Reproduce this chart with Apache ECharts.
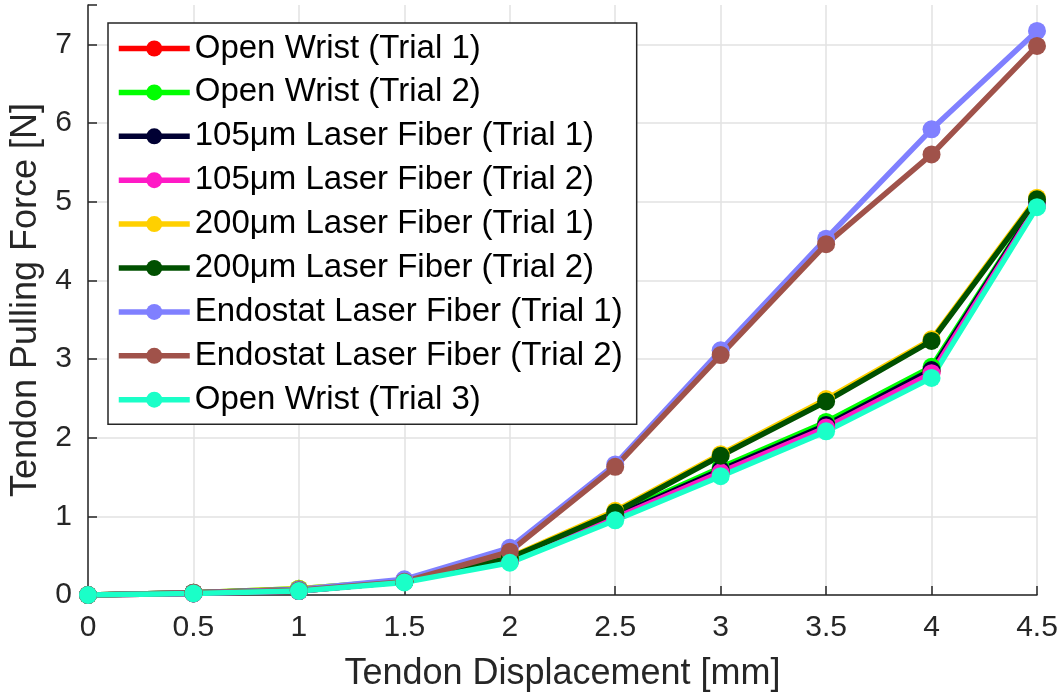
<!DOCTYPE html>
<html>
<head>
<meta charset="utf-8">
<script src="https://cdn.jsdelivr.net/npm/echarts@6/dist/echarts.min.js"></script>
<style>
  html, body { margin: 0; padding: 0; background: #fff; }
  #main { width: 1064px; height: 698px; }
</style>
</head>
<body>
<div id="main"></div>
<script>
// 변위 (mm)
var displacement = [0, 0.5, 1, 1.5, 2, 2.5, 3, 3.5, 4, 4.5];

// 각 시험별 당김 힘 (N)
var openWrist1   = [0, 0.02, 0.05, 0.17, 0.43, 0.98, 1.56, 2.13, 2.84, 4.95];
var openWrist2   = [0, 0.03, 0.08, 0.18, 0.46, 1.02, 1.62, 2.2, 2.9, 4.98];
var fiber105_1   = [0, 0.02, 0.05, 0.17, 0.44, 1.00, 1.59, 2.16, 2.86, 4.97];
var fiber105_2   = [0, 0.02, 0.05, 0.17, 0.43, 0.98, 1.56, 2.13, 2.82, 4.95];
var fiber200_1   = [0, 0.03, 0.08, 0.18, 0.48, 1.07, 1.79, 2.49, 3.25, 5.05];
var fiber200_2   = [0, 0.03, 0.07, 0.17, 0.47, 1.05, 1.77, 2.46, 3.23, 5.03];
var endostat1    = [0, 0.03, 0.07, 0.20, 0.60, 1.66, 3.11, 4.53, 5.92, 7.17];
var endostat2    = [0, 0.03, 0.06, 0.17, 0.55, 1.63, 3.05, 4.46, 5.60, 6.98];
var openWrist3   = [0, 0.02, 0.05, 0.16, 0.41, 0.95, 1.51, 2.08, 2.76, 4.93];

var seriesNames = [
  'Open Wrist (Trial 1)',
  'Open Wrist (Trial 2)',
  '105μm Laser Fiber (Trial 1)',
  '105μm Laser Fiber (Trial 2)',
  '200μm Laser Fiber (Trial 1)',
  '200μm Laser Fiber (Trial 2)',
  'Endostat Laser Fiber (Trial 1)',
  'Endostat Laser Fiber (Trial 2)',
  'Open Wrist (Trial 3)'
];
var seriesValues = [openWrist1, openWrist2, fiber105_1, fiber105_2, fiber200_1, fiber200_2, endostat1, endostat2, openWrist3];
var seriesColors = ['#ff0000', '#00ff00', '#000033', '#ff1ac6', '#ffd000', '#005000', '#8080ff', '#a0524a', '#1affc8'];

var yTicks = [0, 1, 2, 3, 4, 5, 6, 7];

function makeSeries(i) {
  return {
    name: seriesNames[i],
    type: 'line',
    data: displacement.map(function (x, k) { return [x, seriesValues[i][k]]; }),
    symbol: 'circle',
    symbolSize: 18,
    showSymbol: true,
    lineStyle: { width: 5.5, color: seriesColors[i] },
    itemStyle: { color: seriesColors[i] },
    animation: false
  };
}

var myChart = echarts.init(document.getElementById('main'), null, { renderer: 'canvas' });
var option = {
  backgroundColor: '#fff',
  textStyle: { fontFamily: 'Liberation Sans, Arial, sans-serif' },
  grid: {
    left: 88,   // 좌측 여백
    right: 27,  // 우측 여백
    top: 5,     // 상단 여백
    bottom: 103 // 하단 여백
  },
  legend: {
    orient: 'vertical',
    left: 108,
    top: 23,
    padding: [9, 14, 8, 8],
    itemGap: 10.9,
    itemWidth: 71,
    itemHeight: 20,
    borderColor: '#262626',
    borderWidth: 1.5,
    backgroundColor: '#fff',
    lineStyle: { width: 5.5 },
    textStyle: { fontSize: 33, color: '#000', fontFamily: 'Liberation Sans, Arial, sans-serif' },
    data: seriesNames
  },
  xAxis: {
    type: 'value',
    min: 0,
    max: 4.5,
    interval: 0.5,
    name: 'Tendon Displacement [mm]',
    nameLocation: 'middle',
    nameGap: 61,
    nameTextStyle: { fontSize: 36, color: '#262626' },
    axisLine: { lineStyle: { color: '#262626', width: 1.5 } },
    axisTick: { inside: true, length: 9, lineStyle: { color: '#262626', width: 1.5 } },
    axisLabel: { fontSize: 30, color: '#262626', margin: 18 },
    splitLine: { show: true, lineStyle: { color: '#e2e2e2', width: 1.5 } }
  },
  yAxis: {
    type: 'value',
    min: 0,
    max: 7.5,
    interval: 1,
    name: 'Tendon Pulling Force [N]',
    nameLocation: 'middle',
    nameGap: 35,
    nameTextStyle: { fontSize: 36, color: '#262626' },
    axisLine: { show: true, lineStyle: { color: '#262626', width: 1.5 } },
    axisTick: { show: true, inside: true, length: 9, lineStyle: { color: '#262626', width: 1.5 } },
    axisLabel: {
      fontSize: 30, color: '#262626', margin: 16,
      formatter: function (v) { return yTicks.indexOf(v) >= 0 ? String(v) : ''; }
    },
    splitLine: {
      show: true,
      lineStyle: {
        color: ['#e2e2e2', '#e2e2e2', '#e2e2e2', '#e2e2e2', '#e2e2e2', '#e2e2e2', '#e2e2e2', '#e2e2e2', 'rgba(0,0,0,0)'],
        width: 1.5
      }
    }
  },
  series: seriesNames.map(function (n, i) { return makeSeries(i); })
};
myChart.setOption(option);
window.addEventListener('resize', myChart.resize);
</script>
</body>
</html>
